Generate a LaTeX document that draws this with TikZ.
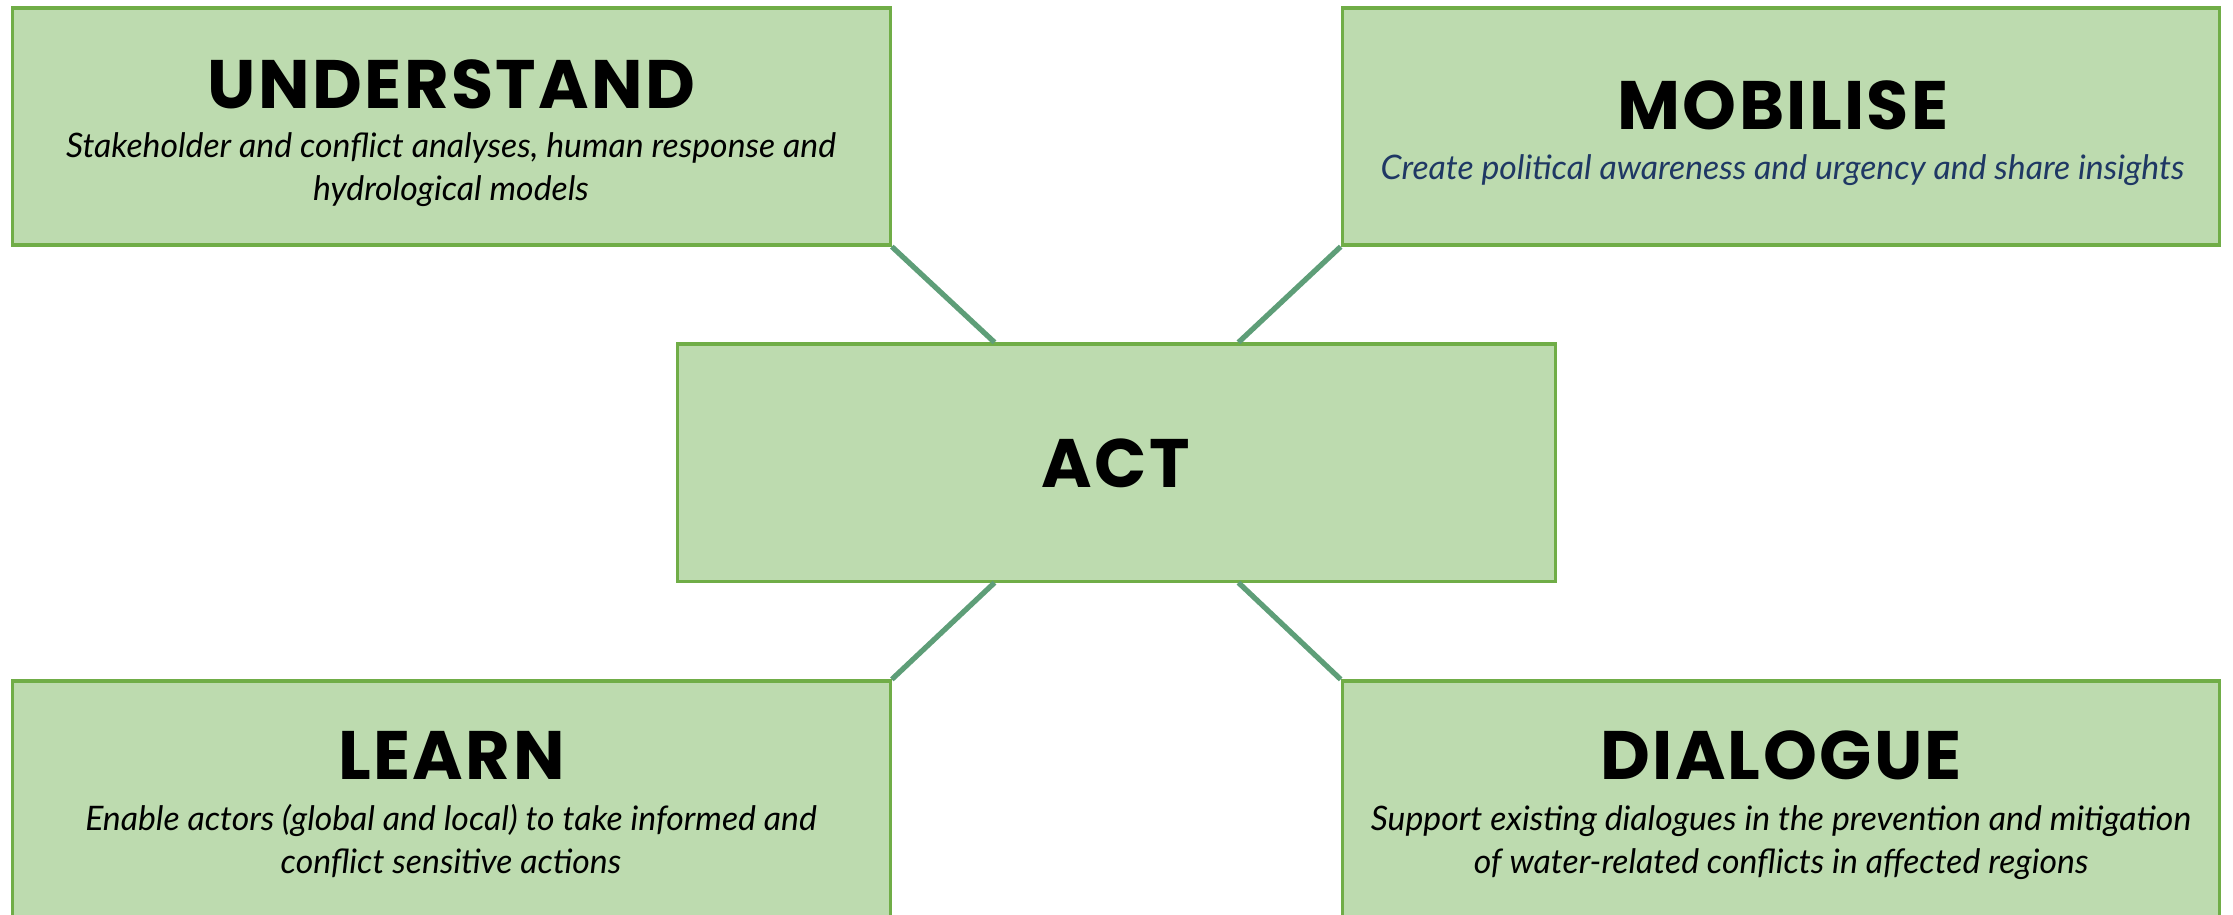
\documentclass[tikz,border=0pt]{standalone}
\usepackage{fontspec}
\setmainfont{Lato}
\newfontfamily\titlefont[LetterSpace=3.5]{Poppins}
\newfontfamily\subfont{Lato}
\usetikzlibrary{calc}

\definecolor{boxfill}{RGB}{189,219,175}
\definecolor{boxline}{RGB}{112,173,71}
\definecolor{linkline}{RGB}{94,158,120}
\definecolor{navy}{RGB}{31,56,100}

\tikzset{
  panel/.style={draw=boxline, fill=boxfill, line width=0.9pt,
    minimum width=8.77cm, minimum height=2.37cm, inner sep=0pt},
  heading/.style={anchor=base, inner sep=0pt,
    font=\titlefont\bfseries\fontsize{19.5pt}{23pt}\selectfont},
  caption/.style={anchor=base, inner sep=0pt,
    font=\subfont\itshape\fontsize{9.6pt}{12pt}\selectfont},
  link/.style={draw=linkline, line width=1.5pt}
}

\begin{document}
\begin{tikzpicture}[x=0.01cm, y=-0.01cm]
\useasboundingbox (0,0) rectangle (2233,914);

% the five panels
\node[panel] (und) at (451.5,126.5) {};
\node[panel] (mob) at (1781,126.5) {};
\node[panel] (act) at (1116.5,462.5) {};
\node[panel] (lrn) at (451.5,799.5) {};
\node[panel] (dia) at (1781,799.5) {};

% connectors from the central panel to the four corners
\draw[link] (und.south east) -- ($(act.north west)!0.3615!(act.north east)$);
\draw[link] (mob.south west) -- ($(act.north west)!0.6385!(act.north east)$);
\draw[link] (lrn.north east) -- ($(act.south west)!0.3615!(act.south east)$);
\draw[link] (dia.north west) -- ($(act.south west)!0.6385!(act.south east)$);

% headings
\node[heading] (und-t) at (451.5,108) {UNDERSTAND};
\node[heading] (mob-t) at (1783,129) {MOBILISE};
\node[heading] (act-t) at (1116,487) {ACT};
\node[heading] (lrn-t) at (451.5,779) {LEARN};
\node[heading] (dia-t) at (1781,779) {DIALOGUE};

% descriptions
\node[caption] (und-a) at (451,157) {Stakeholder and conflict analyses, human response and};
\node[caption] (und-b) at (451,200) {hydrological models};
\node[caption, text=navy] (mob-a) at (1782.5,179) {Create political awareness and urgency and share insights};
\node[caption] (lrn-a) at (451,830) {Enable actors (global and local) to take informed and};
\node[caption] (lrn-b) at (451,873) {conflict sensitive actions};
\node[caption] (dia-a) at (1781,830) {Support existing dialogues in the prevention and mitigation};
\node[caption] (dia-b) at (1781,873) {of water-related conflicts in affected regions};
\end{tikzpicture}
\end{document}
